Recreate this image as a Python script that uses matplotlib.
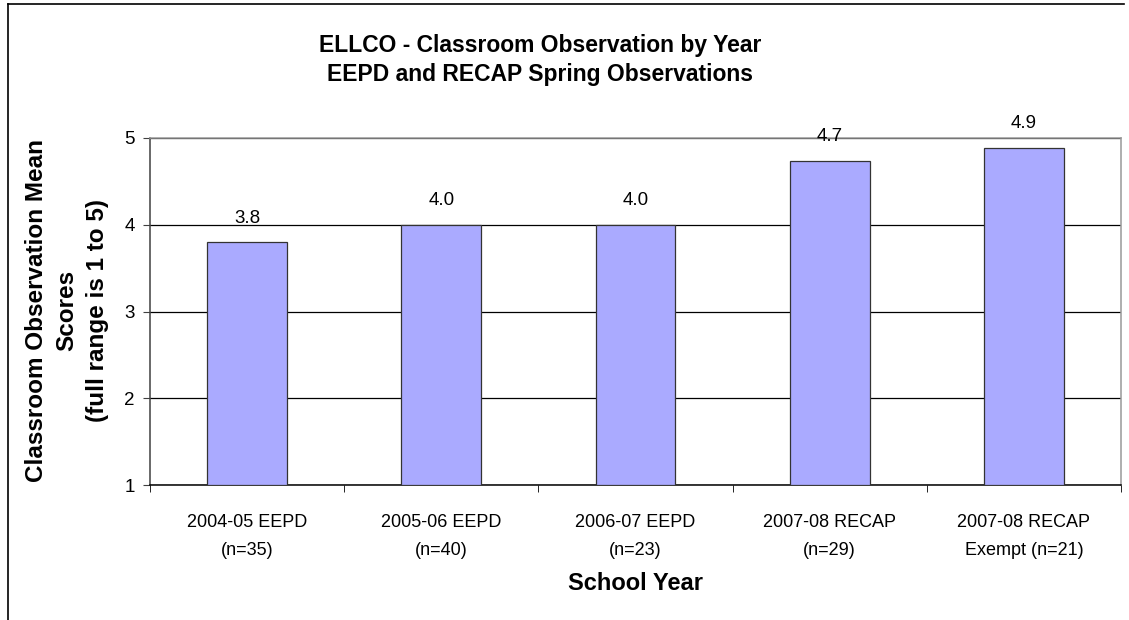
import numpy as np
import matplotlib
matplotlib.use('Agg')
import matplotlib.pyplot as plt
from matplotlib.lines import Line2D

plt.rcParams['font.family'] = ['Liberation Sans', 'DejaVu Sans']

# data
categories = ['2004-05 EEPD\n(n=35)', '2005-06 EEPD\n(n=40)', '2006-07 EEPD\n(n=23)',
              '2007-08 RECAP\n(n=29)', '2007-08 RECAP\nExempt (n=21)']
scores = [3.8, 4.0, 4.0, 4.74, 4.89]
yticks = [1, 2, 3, 4, 5]

fig = plt.figure(figsize=(11.29, 6.2), dpi=100)
ax = fig.add_axes([150/1129, 135/620, 971/1129, 347/620])

x = np.arange(len(categories))
bars = ax.bar(x, np.array(scores) - 1, bottom=1, width=0.41,
              color='#aaaaff', edgecolor='#333333', linewidth=0.9, zorder=3)

# value labels above each bar
for xi, v in zip(x, scores):
    ax.annotate(f'{v:.1f}', (xi, v), xytext=(0, 11), textcoords='offset points',
                ha='center', va='bottom', fontsize=13.5)

ax.set_xlim(-0.5, len(categories) - 0.5)
ax.set_ylim(1, 5)
ax.set_yticks(yticks)
ax.set_yticklabels([str(t) for t in yticks], fontsize=13.5)
ax.set_xticks(x)
ax.set_xticklabels(categories, fontsize=13, linespacing=1.85)
ax.set_xticks(np.arange(len(categories) + 1) - 0.5, minor=True)
ax.tick_params(axis='x', which='major', length=0, pad=21)
ax.tick_params(axis='x', which='minor', length=5, direction='out', color='black')
ax.tick_params(axis='y', length=5, direction='out', color='#404040', pad=6)

ax.yaxis.grid(True, color='black', linewidth=0.9)
ax.set_axisbelow(True)

ax.spines['top'].set_color('#999999')
ax.spines['right'].set_color('#999999')
ax.spines['left'].set_color('#404040')
ax.spines['bottom'].set_color('black')
for s in ax.spines.values():
    s.set_linewidth(1.1)

fig.text(540/1129, 1 - 60/620,
         'ELLCO - Classroom Observation by Year\nEEPD and RECAP Spring Observations',
         ha='center', va='center', fontsize=16.5, fontweight='bold', linespacing=1.3)
fig.text(67/1129, 1 - 310/620,
         'Classroom Observation Mean\nScores\n(full range is 1 to 5)',
         ha='center', va='center', rotation=90, fontsize=17.5, fontweight='bold',
         multialignment='center', linespacing=1.4)
fig.text(636/1129, 1 - 583/620, 'School Year', ha='center', va='center',
         fontsize=17, fontweight='bold')

# outer chart border (left and top visible)
fig.add_artist(Line2D([8/1129, 8/1129], [0, 1 - 4/620], color='black', linewidth=1.2,
                      transform=fig.transFigure))
fig.add_artist(Line2D([8/1129, 1124/1129], [1 - 4/620, 1 - 4/620], color='black',
                      linewidth=1.2, transform=fig.transFigure))

fig.savefig('out.png', dpi=100)
